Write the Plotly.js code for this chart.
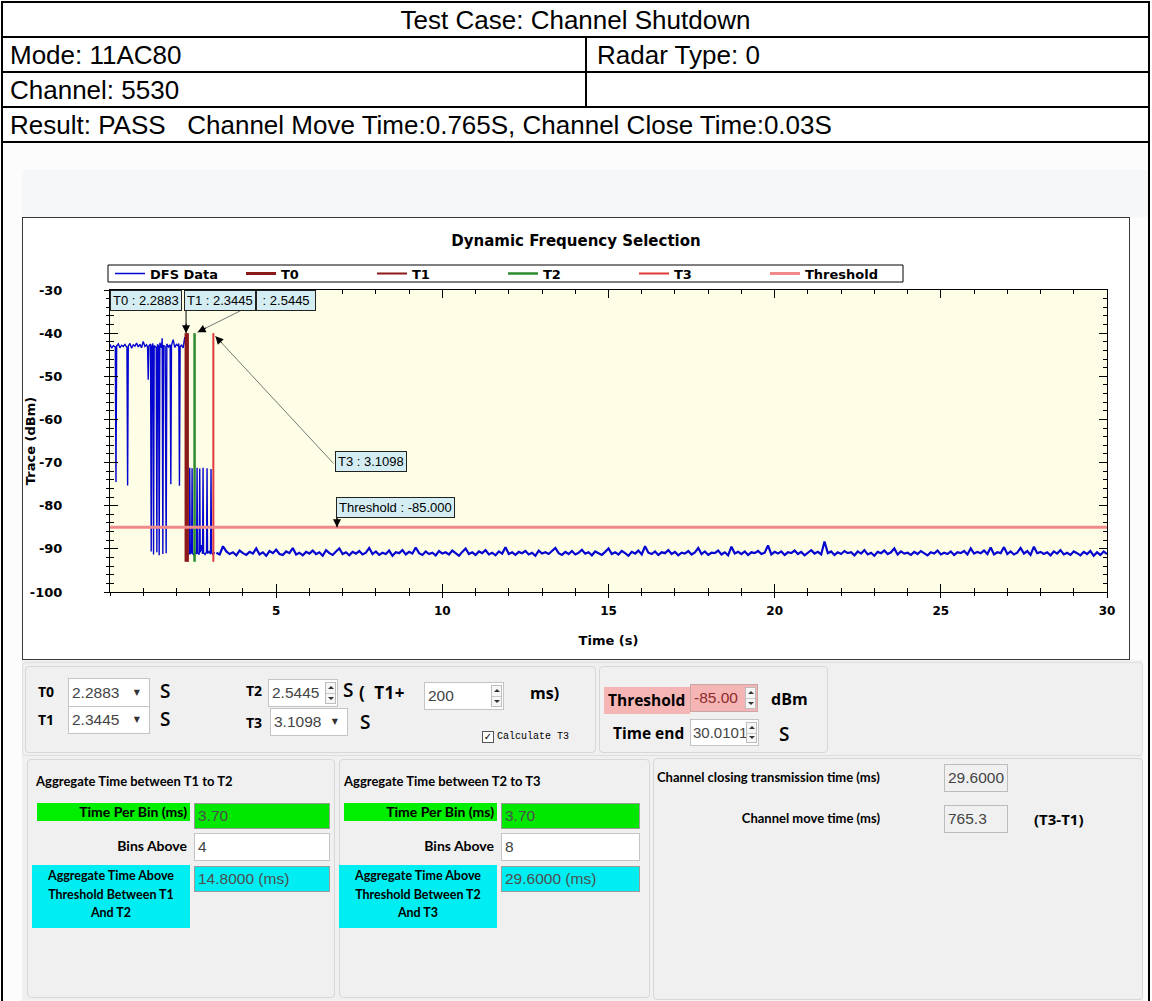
<!DOCTYPE html>
<html>
<head>
<meta charset="utf-8">
<script src="https://cdn.plot.ly/plotly-3.0.1.min.js"></script>
<style>
html,body{margin:0;padding:0;background:#fff;}
body{position:relative;width:1152px;height:1001px;overflow:hidden;}
.a{position:absolute;}
.blk{position:absolute;background:#000;}
.cell{position:absolute;font-family:"Liberation Sans",Arial,sans-serif;font-size:26px;color:#000;white-space:pre;line-height:30px;height:30px;}
.pnl{position:absolute;box-sizing:border-box;border:1px solid #d7d7d7;border-radius:4px;background:#f0f0f0;}
.lb{position:absolute;font-family:"Open Sans",sans-serif;font-weight:700;color:#000;white-space:nowrap;line-height:1;transform:translateY(-50%);}
.lbr{position:absolute;font-family:"Lato","Open Sans",sans-serif;font-weight:700;color:#000;white-space:nowrap;line-height:1;transform:translate(-100%,-50%);}
.lt{position:absolute;font-family:"Lato","Open Sans",sans-serif;font-weight:700;color:#000;white-space:nowrap;line-height:1;transform:translateY(-50%);}
.box{position:absolute;box-sizing:border-box;border:1px solid #c4c4c4;background:#fff;}
.val{position:absolute;left:3px;top:50%;transform:translateY(-52%);font-family:"Liberation Sans",Arial,sans-serif;font-size:15.5px;color:#444;white-space:nowrap;line-height:1;}
.dd{position:absolute;right:9px;top:50%;transform:translateY(-50%);font-size:8px;color:#333;line-height:1;font-family:"DejaVu Sans",sans-serif;}
.spin{position:absolute;right:1px;top:2px;bottom:2px;width:11px;box-sizing:border-box;border:1px solid #bdbdbd;background:#f6f6f6;}
.spin:before{content:"";position:absolute;left:2px;top:3px;border-left:3px solid transparent;border-right:3px solid transparent;border-bottom:3px solid #333;}
.spin:after{content:"";position:absolute;left:2px;bottom:3px;border-left:3px solid transparent;border-right:3px solid transparent;border-top:3px solid #333;}
.spin i{position:absolute;left:0;right:0;top:50%;height:1px;background:#c8c8c8;}
.cy{position:absolute;background:#00eef2;font-family:"Lato","Open Sans",sans-serif;font-weight:700;font-size:12.5px;line-height:18.5px;text-align:center;padding-top:2px;box-sizing:border-box;}
</style>
</head>
<body>
<!-- report table -->
<div class="blk" style="left:1px;top:1px;width:2px;height:1000px"></div>
<div class="blk" style="left:1148px;top:1px;width:2px;height:1000px"></div>
<div class="blk" style="left:1px;top:1px;width:1149px;height:2px"></div>
<div class="blk" style="left:1px;top:36px;width:1149px;height:2px"></div>
<div class="blk" style="left:1px;top:71px;width:1149px;height:2px"></div>
<div class="blk" style="left:1px;top:106px;width:1149px;height:2px"></div>
<div class="blk" style="left:1px;top:141px;width:1149px;height:2px"></div>
<div class="blk" style="left:585px;top:37px;width:2px;height:70px"></div>
<div class="cell" style="left:3px;width:1145px;text-align:center;top:5px">Test Case: Channel Shutdown</div>
<div class="cell" style="left:10px;top:40px">Mode: 11AC80</div>
<div class="cell" style="left:597px;top:40px">Radar Type: 0</div>
<div class="cell" style="left:10px;top:75px">Channel: 5530</div>
<div class="cell" style="left:10px;top:110px">Result: PASS   Channel Move Time:0.765S, Channel Close Time:0.03S</div>

<!-- screenshot area -->
<div class="a" style="left:3px;top:143px;width:1145px;height:858px;background:#fcfcfd"></div>
<div class="a" style="left:22px;top:170px;width:1126px;height:47px;background:#f6f7f9"></div>
<div class="a" style="left:22px;top:217px;width:1108px;height:443px;box-sizing:border-box;border:1px solid #3a3a3a;background:#fff"></div>
<div id="chart" class="a" style="left:23px;top:218px;width:1106px;height:441px"></div>

<div class="a" style="left:22px;top:660px;width:1121px;height:341px;background:#f0f0f0"></div>
<div class="pnl" style="left:22px;top:662px;width:1121px;height:94px;border-color:#dedede"></div>
<div class="pnl" style="left:25px;top:666px;width:571px;height:87px"></div>
<div class="pnl" style="left:599px;top:666px;width:229px;height:87px"></div>
<div class="pnl" style="left:27px;top:759px;width:308px;height:239px"></div>
<div class="pnl" style="left:339px;top:759px;width:311px;height:239px"></div>
<div class="pnl" style="left:653px;top:758px;width:490px;height:242px"></div>

<!-- panel 1 -->
<div class="lb" style="left:38px;top:692px;font-size:14px">T0</div>
<div class="box" style="left:68px;top:678px;width:82px;height:29px"><span class="val">2.2883</span><span class="dd">&#9660;</span></div>
<div class="lb" style="left:160px;top:691px;font-size:19px;font-weight:600">S</div>
<div class="lb" style="left:38px;top:720px;font-size:14px">T1</div>
<div class="box" style="left:68px;top:706px;width:82px;height:28px"><span class="val">2.3445</span><span class="dd">&#9660;</span></div>
<div class="lb" style="left:160px;top:719px;font-size:19px;font-weight:600">S</div>
<div class="lb" style="left:246px;top:691px;font-size:14px">T2</div>
<div class="box" style="left:268px;top:679px;width:70px;height:28px"><span class="val">2.5445</span><span class="spin"><i></i></span></div>
<div class="lb" style="left:343px;top:690px;font-size:19px;font-weight:600">S</div>
<div class="lb" style="left:359px;top:692px;font-size:17px;word-spacing:4px;letter-spacing:0.5px">( T1+</div>
<div class="box" style="left:424px;top:682px;width:80px;height:28px"><span class="val">200</span><span class="spin"><i></i></span></div>
<div class="lb" style="left:530px;top:693px;font-size:16px">ms)</div>
<div class="lb" style="left:246px;top:723px;font-size:14px">T3</div>
<div class="box" style="left:270px;top:708px;width:78px;height:28px"><span class="val">3.1098</span><span class="dd">&#9660;</span></div>
<div class="lb" style="left:360px;top:722px;font-size:19px;font-weight:600">S</div>
<div class="a" style="left:482px;top:731px;width:12px;height:12px;border:1px solid #555;box-sizing:border-box;background:#fff;font-size:10px;line-height:10px;text-align:center;font-family:'DejaVu Sans'">&#10003;</div>
<div class="a" style="left:497px;top:730px;font-family:'Liberation Mono',monospace;font-size:10px;line-height:14px;color:#000;white-space:nowrap">Calculate T3</div>

<!-- panel 2 -->
<div class="a" style="left:604px;top:687px;width:86px;height:27px;background:#f5b5b5"></div>
<div class="lb" style="left:608px;top:701px;font-size:15.5px">Threshold</div>
<div class="box" style="left:690px;top:684px;width:68px;height:28px;background:#f5b5b5;border-color:#c9a6a6"><span class="val" style="color:#8f2a2a">-85.00</span><span class="spin"><i></i></span></div>
<div class="lb" style="left:771px;top:699px;font-size:16px">dBm</div>
<div class="lb" style="left:613px;top:734px;font-size:15.5px">Time end</div>
<div class="box" style="left:690px;top:719px;width:69px;height:27px"><span class="val" style="left:2px;font-size:15px">30.0101</span><span class="spin"><i></i></span></div>
<div class="lb" style="left:779px;top:734px;font-size:19px;font-weight:600">S</div>

<!-- panel A -->
<div class="lt" style="left:36px;top:781px;font-size:13px">Aggregate Time between T1 to T2</div>
<div class="a" style="left:37px;top:803px;width:153px;height:18px;background:#00ee00"></div>
<div class="lbr" style="left:187px;top:812px;font-size:14px">Time Per Bin (ms)</div>
<div class="box" style="left:194px;top:803px;width:136px;height:26px;background:#00e800;border-color:#9a9a9a"><span class="val" style="color:#4d4d4d">3.70</span></div>
<div class="lbr" style="left:187px;top:846px;font-size:14px">Bins Above</div>
<div class="box" style="left:194px;top:833px;width:136px;height:28px"><span class="val">4</span></div>
<div class="cy" style="left:32px;top:865px;width:158px;height:63px">Aggregate Time Above<br>Threshold Between T1<br>And T2</div>
<div class="box" style="left:194px;top:866px;width:136px;height:26px;background:#00eef2;border-color:#9a9a9a"><span class="val" style="color:#4d4d4d">14.8000 (ms)</span></div>

<!-- panel B -->
<div class="lt" style="left:344px;top:781px;font-size:13px">Aggregate Time between T2 to T3</div>
<div class="a" style="left:344px;top:803px;width:153px;height:18px;background:#00ee00"></div>
<div class="lbr" style="left:494px;top:812px;font-size:14px">Time Per Bin (ms)</div>
<div class="box" style="left:501px;top:803px;width:139px;height:26px;background:#00e800;border-color:#9a9a9a"><span class="val" style="color:#4d4d4d">3.70</span></div>
<div class="lbr" style="left:494px;top:846px;font-size:14px">Bins Above</div>
<div class="box" style="left:501px;top:833px;width:139px;height:28px"><span class="val">8</span></div>
<div class="cy" style="left:339px;top:865px;width:158px;height:63px">Aggregate Time Above<br>Threshold Between T2<br>And T3</div>
<div class="box" style="left:501px;top:866px;width:139px;height:26px;background:#00eef2;border-color:#9a9a9a"><span class="val" style="color:#4d4d4d">29.6000 (ms)</span></div>

<!-- panel C -->
<div class="lt" style="left:657px;top:777px;font-size:13px">Channel closing transmission time (ms)</div>
<div class="box" style="left:944px;top:764px;width:64px;height:28px;background:#f0f0f0;border-color:#bcbcbc"><span class="val">29.6000</span></div>
<div class="lbr" style="left:880px;top:818px;font-size:13px">Channel move time (ms)</div>
<div class="box" style="left:944px;top:805px;width:64px;height:28px;background:#f0f0f0;border-color:#bcbcbc"><span class="val">765.3</span></div>
<div class="lb" style="left:1034px;top:819px;font-size:15px">(T3-T1)</div>

<script>
// ---------------- data ----------------
// DFS trace, first part (explicit sample times, seconds) and levels (dBm)
const preT = [0.00,0.05,0.10,0.16,0.18,0.20,0.25,0.30,0.35,0.40,
  0.45,0.51,0.53,0.55,0.60,0.65,0.70,0.75,0.80,0.85,
  0.90,0.95,1.00,1.05,1.10,1.13,1.15,1.17,1.22,1.24,
  1.26,1.29,1.31,1.33,1.39,1.41,1.43,1.46,1.48,1.50,
  1.55,1.57,1.59,1.61,1.66,1.69,1.71,1.76,1.81,1.83,
  1.85,1.90,1.95,2.00,2.05,2.07,2.09,2.11,2.15,2.20,
  2.25,2.28,
  2.29,2.32,2.36,2.385,2.40,2.415,2.455,2.47,2.485,2.52,
  2.56,2.605,2.62,2.635,2.685,2.70,2.715,2.75,2.785,2.80,
  2.815,2.86,2.905,2.92,2.935,2.98,3.025,3.04,3.055,3.10,
  3.15];
const preY = [-42.6,-43.5,-42.9,-43.2,-74.5,-43.0,-42.5,-43.4,-42.8,-43.1,
  -42.6,-43.3,-75.3,-43.0,-42.4,-43.5,-42.7,-43.0,-42.3,-43.2,
  -42.6,-43.4,-41.9,-43.1,-42.7,-43.2,-50.8,-43.0,-42.5,-90.6,
  -43.1,-42.4,-91.3,-42.9,-43.3,-90.8,-42.6,-43.0,-91.5,-42.2,
  -43.4,-41.2,-91.2,-42.8,-43.1,-91.0,-42.5,-43.2,-42.7,-75.0,
  -42.9,-41.5,-43.3,-42.6,-43.0,-42.4,-75.4,-43.1,-42.8,-43.4,
  -40.9,-43.0,
  -92.3,-90.9,-91.4,-91.0,-71.2,-91.2,-90.8,-71.3,-91.1,-91.4,
  -90.7,-91.2,-71.2,-90.9,-91.3,-71.4,-90.8,-89.1,-91.2,-71.2,
  -90.9,-91.3,-90.7,-71.3,-91.1,-90.6,-91.2,-71.5,-90.9,-91.3,
  -90.8];
// DFS trace, noise floor part: regular sampling from floorStart every floorStep seconds
const floorStart = 3.2;
const floorStep = 0.1;
const floorY = [
  -90.9,-91.3,-89.4,-90.6,-91.2,-90.8,-91.5,-90.4,-91.0,-91.4,
  -90.7,-91.1,-89.9,-91.3,-90.8,-91.6,-90.5,-91.0,-90.2,-91.2,
  -91.4,-90.6,-91.0,-89.8,-91.3,-90.9,-91.5,-90.7,-91.1,-90.4,
  -91.2,-90.8,-91.6,-90.3,-91.0,-91.4,-90.6,-89.9,-91.2,-90.8,
  -91.5,-90.7,-91.1,-90.5,-91.3,-90.9,-89.8,-91.2,-90.6,-91.4,
  -90.9,-91.2,-90.4,-91.6,-90.8,-91.0,-90.3,-91.3,-90.7,-91.1,
  -89.7,-91.0,-91.4,-90.6,-91.2,-90.9,-91.5,-90.5,-91.1,-90.8,
  -91.3,-90.4,-91.0,-91.6,-90.7,-89.9,-91.2,-90.8,-91.4,-90.6,
  -91.0,-90.3,-91.3,-90.9,-91.5,-90.6,-91.1,-89.6,-91.2,-90.8,
  -91.4,-90.7,-91.0,-90.5,-91.3,-90.9,-91.6,-90.4,-91.1,-90.8,
  -91.2,-90.6,-89.8,-91.0,-91.4,-90.7,-91.2,-90.5,-91.3,-90.9,
  -90.2,-91.1,-90.8,-91.5,-90.6,-91.0,-91.4,-90.7,-89.9,-91.2,
  -90.8,-91.3,-90.5,-91.0,-91.6,-90.7,-91.1,-90.4,-91.3,-89.4,
  -90.9,-91.2,-90.6,-91.4,-90.8,-91.0,-90.3,-91.2,-90.7,-91.5,
  -90.9,-91.1,-90.5,-91.3,-90.8,-89.8,-91.2,-90.6,-91.4,-90.9,
  -91.0,-90.4,-91.3,-90.8,-91.5,-89.5,-91.1,-90.7,-91.2,-90.6,
  -91.4,-90.8,-91.0,-90.5,-91.2,-90.9,-89.2,-91.3,-90.7,-91.1,
  -90.6,-91.4,-90.8,-91.0,-90.4,-91.2,-90.7,-91.5,-90.9,-90.3,
  -91.1,-90.7,-91.3,-88.3,-91.0,-90.6,-91.4,-90.8,-91.2,-90.5,
  -91.0,-90.8,-91.5,-90.6,-91.1,-90.3,-91.3,-90.9,-91.6,-90.7,
  -91.0,-90.4,-91.2,-90.8,-89.9,-91.3,-90.6,-91.1,-90.9,-91.4,
  -90.7,-91.2,-90.5,-91.0,-91.5,-90.8,-91.1,-90.4,-91.3,-90.9,
  -91.2,-90.6,-91.4,-90.8,-91.0,-90.5,-91.3,-89.9,-91.1,-90.7,
  -91.0,-90.4,-91.2,-89.7,-91.3,-90.8,-91.0,-89.6,-91.2,-90.6,
  -91.3,-90.9,-89.8,-91.1,-90.5,-91.4,-89.5,-91.0,-90.7,-91.2,
  -90.8,-91.5,-90.6,-91.1,-90.3,-91.3,-90.9,-91.4,-90.6,-91.0,
  -91.5,-90.7,-91.2,-90.5,-91.6,-90.8,-91.4,-90.6,-91.2];
// markers
const markerNames = ['T0','T1','T2','T3'];
const markerTimes = [2.2883, 2.3445, 2.5445, 3.1098];
const markerTop = -40;
const markerBottom = -93;
const thresholdLevel = -85;
const timeStart = 0;
const timeEnd = 30;
// axes
const xTickVals = [5,10,15,20,25,30];
const xTickText = ['5','10','15','20','25','30'];
const yTickVals = [-100,-90,-80,-70,-60,-50,-40,-30];
const yTickText = ['-100','-90','-80','-70','-60','-50','-40','-30'];
const yRange = [-100,-30];

// ---------------- styles ----------------
const markerColors = ['#8b1a1a','#8b1a1a','#2e8b2e','#e23a3a'];
const markerWidths = [3,2,2.5,2];
const dfsColor = '#0505d0';
const BF = 'DejaVu Sans, Verdana, sans-serif';

const traces = [
  {type:'scatter', mode:'lines', name:'DFS Data', x:preT, y:preY,
   line:{color:dfsColor, width:1.4}, hoverinfo:'skip'},
  {type:'scatter', mode:'lines', name:'DFS Data', showlegend:false,
   x0:floorStart, dx:floorStep, y:floorY, line:{color:dfsColor, width:2.2}, hoverinfo:'skip'}
];
markerNames.forEach(function(n,i){
  traces.push({type:'scatter', mode:'lines', name:n, x:[markerTimes[i],markerTimes[i]],
    y:[markerTop,markerBottom], line:{color:markerColors[i], width:markerWidths[i]}, hoverinfo:'skip'});
});
traces.push({type:'scatter', mode:'lines', name:'Threshold', x:[timeStart,timeEnd],
  y:[thresholdLevel,thresholdLevel], line:{color:'#f08a8a', width:3}, hoverinfo:'skip'});
// invisible carrier for the outer tick overlay axes
traces.push({type:'scatter', mode:'lines', xaxis:'x2', yaxis:'y2', showlegend:false, hoverinfo:'skip',
  x:[timeStart,timeEnd], y:yRange, line:{width:0, color:'rgba(0,0,0,0)'}});

// pixel helpers for callout placement (plot area is 110..1107 x 290..592 on the page)
const X0 = 110, XW = 997, Y0 = 290, YH = 302;
const px2t = function(p){ return timeStart + (p - X0) / XW * (timeEnd - timeStart); };
const py2v = function(p){ return yRange[1] - (p - Y0) / YH * (yRange[1] - yRange[0]); };
const t2px = function(t){ return X0 + (t - timeStart) / (timeEnd - timeStart) * XW; };
const v2py = function(v){ return Y0 + (yRange[1] - v) / (yRange[1] - yRange[0]) * YH; };

function label(text, leftPx, centerPy){
  return {x:px2t(leftPx), y:py2v(centerPy), xref:'x', yref:'y', xanchor:'left', yanchor:'middle',
    showarrow:false, text:text, bgcolor:'#d3edf3', bordercolor:'#222', borderwidth:1, borderpad:2,
    font:{family:'Liberation Sans, Arial, sans-serif', size:13, color:'#000'}};
}
function arrow(tx, ty, hx, hy, lineColor){
  const dx = hx - tx, dy = hy - ty, L = Math.hypot(dx, dy), k = 11 / L;
  const common = {xref:'x', yref:'y', axref:'x', ayref:'y', text:'', showarrow:true, arrowwidth:1};
  return [
    Object.assign({}, common, {x:px2t(hx), y:py2v(hy), ax:px2t(tx), ay:py2v(ty), arrowhead:0, arrowcolor:lineColor}),
    Object.assign({}, common, {x:px2t(hx), y:py2v(hy), ax:px2t(hx - dx*k), ay:py2v(hy - dy*k), arrowhead:2, arrowsize:1.6, arrowcolor:'#000'})
  ];
}

const annotations = [].concat(
  arrow(t2px(markerTimes[0]), 309, t2px(markerTimes[0]), v2py(markerTop), '#000'),
  arrow(242, 310, t2px(markerTimes[2]) + 3, v2py(markerTop) - 1, '#777'),
  arrow(335, 465, t2px(markerTimes[3]) + 2, v2py(markerTop) + 3, '#777'),
  arrow(337, 516, 337, v2py(thresholdLevel), '#000'),
  [
    label('T0 : ' + markerTimes[0].toFixed(4), 110, 300.5),
    label(' : ' + markerTimes[2].toFixed(4) + ' ', 256, 300.5),
    label('T1 : ' + markerTimes[1].toFixed(4), 184, 300.5),
    label('T3 : ' + markerTimes[3].toFixed(4), 335, 461.5),
    label('Threshold : ' + thresholdLevel.toFixed(3), 336, 507.5)
  ]
);

const layout = {
  width:1106, height:441,
  margin:{l:87, r:22, t:72, b:67},
  paper_bgcolor:'#ffffff', plot_bgcolor:'#fefde6',
  title:{text:'Dynamic Frequency Selection', font:{family:BF, size:15, weight:'bold', color:'#000'},
    x:0.5, xref:'container', xanchor:'center', y:1 - 23/441, yref:'container', yanchor:'middle'},
  showlegend:true,
  legend:{orientation:'h', x:0, xanchor:'left', y:1 + (290-273.5)/YH, yanchor:'middle', entrywidth:86, entrywidthmode:'pixels',
    font:{family:BF, size:13, weight:'bold', color:'#000'}, bgcolor:'rgba(0,0,0,0)', borderwidth:0, traceorder:'normal'},
  xaxis:{range:[timeStart,timeEnd], tickmode:'array', tickvals:xTickVals, ticktext:xTickText,
    ticks:'inside', ticklen:8, tickwidth:1, tickcolor:'#000',
    minor:{tickmode:'linear', tick0:0, dtick:1, ticks:'inside', ticklen:4, tickcolor:'#000', showgrid:false},
    showline:true, linecolor:'#000', linewidth:1, mirror:'ticks', showgrid:false, zeroline:false,
    tickfont:{family:BF, size:12, weight:'bold', color:'#000'}, ticklabelstandoff:8,
    title:{text:'Time (s)', font:{family:BF, size:13, weight:'bold', color:'#000'}, standoff:18}},
  yaxis:{range:yRange, tickmode:'array', tickvals:yTickVals, ticktext:yTickText,
    ticks:'inside', ticklen:8, tickwidth:1, tickcolor:'#000',
    minor:{tickmode:'linear', tick0:0, dtick:2, ticks:'inside', ticklen:4, tickcolor:'#000', showgrid:false},
    showline:true, linecolor:'#000', linewidth:1, mirror:'ticks', showgrid:false, zeroline:false,
    tickfont:{family:BF, size:13, weight:'bold', color:'#000'}, ticklabelstandoff:44,
    title:{text:'Trace (dBm)', font:{family:BF, size:13, weight:'bold', color:'#000'}, standoff:0}},
  xaxis2:{overlaying:'x', anchor:'y', side:'bottom', range:[timeStart,timeEnd], tickmode:'array', tickvals:xTickVals,
    ticks:'outside', ticklen:5, tickcolor:'#000', showticklabels:false, showline:false, showgrid:false, zeroline:false,
    minor:{tickmode:'linear', tick0:0, dtick:1, ticks:'outside', ticklen:3, tickcolor:'#000', showgrid:false}},
  yaxis2:{overlaying:'y', anchor:'x', side:'left', range:yRange, tickmode:'array', tickvals:yTickVals,
    ticks:'outside', ticklen:5, tickcolor:'#000', showticklabels:false, showline:false, showgrid:false, zeroline:false,
    minor:{tickmode:'linear', tick0:0, dtick:2, ticks:'outside', ticklen:3, tickcolor:'#000', showgrid:false}},
  shapes:[{type:'rect', xref:'paper', yref:'paper', x0:-0.002, x1:(903 - X0)/XW, y0:1 + (290-282)/YH, y1:1 + (290-265)/YH,
    line:{color:'#000', width:1}, fillcolor:'#ffffff', layer:'above'}],
  annotations:annotations
};

Plotly.newPlot('chart', traces, layout, {staticPlot:true, displayModeBar:false});
</script>
</body>
</html>
